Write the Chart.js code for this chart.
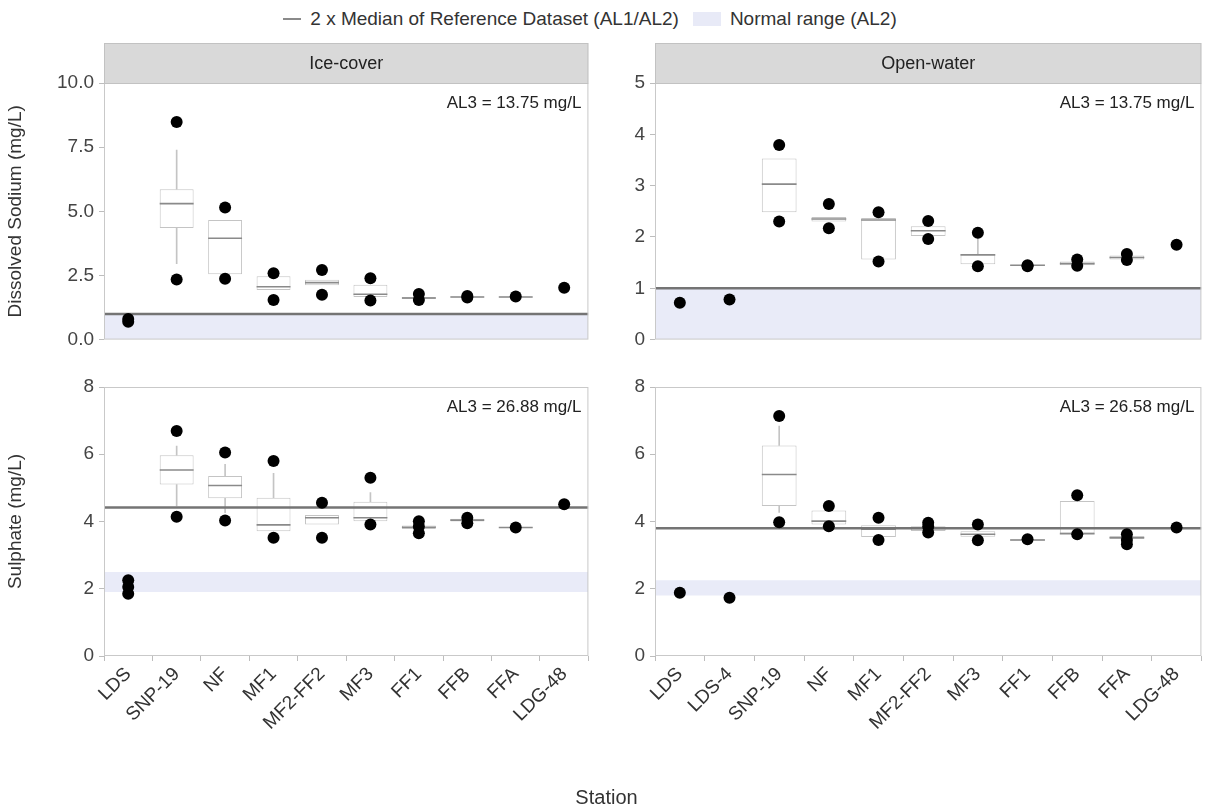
<!DOCTYPE html>
<html>
<head>
<meta charset="utf-8">
<title>Sodium and sulphate by station</title>
<script src="https://cdn.jsdelivr.net/npm/chart.js@4.4.1/dist/chart.umd.min.js"></script>
<style>
  body {
    margin: 0;
    width: 1213px;
    height: 812px;
    position: relative;
    overflow: hidden;
    background: #fff;
    font-family: "Liberation Sans", Arial, sans-serif;
    color: #333;
  }
  .panel { position: absolute; }
  #legend {
    position: absolute;
    top: 8px;
    left: 0;
    width: 1180px;
    display: flex;
    justify-content: center;
    align-items: center;
    font-size: 19px;
    color: #333;
    white-space: nowrap;
  }
  #legend .line { width: 18px; height: 2px; background: #8a8a8a; margin-right: 9px; }
  #legend .band { width: 28px; height: 14px; background: #e8eaf7; margin: 0 9px 0 14px; }
  #xtitle {
    position: absolute;
    top: 786px;
    left: 0;
    width: 1213px;
    text-align: center;
    font-size: 20px;
    color: #333;
  }
</style>
</head>
<body>

<div id="legend">
  <span class="line"></span><span>2 x Median of Reference Dataset (AL1/AL2)</span>
  <span class="band"></span><span>Normal range (AL2)</span>
</div>

<div class="panel" style="left:0;top:40px;width:600px;height:316px"><canvas id="naIce"></canvas></div>
<div class="panel" style="left:600px;top:40px;width:613px;height:316px"><canvas id="naOpen"></canvas></div>
<div class="panel" style="left:0;top:347px;width:600px;height:440px"><canvas id="so4Ice"></canvas></div>
<div class="panel" style="left:600px;top:347px;width:613px;height:440px"><canvas id="so4Open"></canvas></div>

<div id="xtitle">Station</div>

<script>
/* ================================
   Stations
================================ */
const iceStations = ["LDS", "SNP-19", "NF", "MF1", "MF2-FF2", "MF3", "FF1", "FFB", "FFA", "LDG-48"];
const openStations = ["LDS", "LDS-4", "SNP-19", "NF", "MF1", "MF2-FF2", "MF3", "FF1", "FFB", "FFA", "LDG-48"];

/* ================================
   Dissolved sodium - ice-cover
================================ */
const naIceLo  = [null, 2.96, 2.55, 1.93, 2.12, 1.66, 1.58, 1.64, 1.64, null];
const naIceQ1  = [null, 4.35, 2.55, 1.93, 2.12, 1.66, 1.58, 1.64, 1.64, null];
const naIceMed = [null, 5.30, 3.95, 2.06, 2.22, 1.77, 1.62, 1.66, 1.66, null];
const naIceQ3  = [null, 5.86, 4.66, 2.47, 2.33, 2.14, 1.66, 1.68, 1.68, null];
const naIceHi  = [null, 7.39, 4.66, 2.47, 2.33, 2.14, 1.66, 1.68, 1.68, null];
const naIcePts = [[0.70, 0.80], [8.48, 2.34], [5.15, 2.37], [2.59, 1.54], [2.71, 1.75],
                  [2.39, 1.52], [1.78, 1.54], [1.70, 1.64], [1.68], [2.02]];

/* ================================
   Dissolved sodium - open-water
================================ */
const naOpenLo  = [null, null, 2.48, 2.30, 1.56, 2.02, 1.47, 1.44, 1.45, 1.56, null];
const naOpenQ1  = [null, null, 2.48, 2.30, 1.56, 2.02, 1.47, 1.44, 1.45, 1.56, null];
const naOpenMed = [null, null, 3.03, 2.35, 2.33, 2.12, 1.65, 1.45, 1.48, 1.60, null];
const naOpenQ3  = [null, null, 3.53, 2.39, 2.37, 2.21, 1.67, 1.46, 1.52, 1.64, null];
const naOpenHi  = [null, null, 3.53, 2.39, 2.37, 2.21, 2.00, 1.46, 1.52, 1.64, null];
const naOpenPts = [[0.72], [0.78], [3.79, 2.30], [2.64, 2.17], [2.48, 1.52], [2.31, 1.96],
                   [2.08, 1.43], [1.45, 1.43], [1.56, 1.44], [1.67, 1.55], [1.85]];

/* ================================
   Sulphate - ice-cover
================================ */
const so4IceLo  = [null, 4.46, 4.26, 3.71, 3.91, 4.01, 3.78, 4.00, 3.80, null];
const so4IceQ1  = [null, 5.10, 4.69, 3.71, 3.91, 4.01, 3.78, 4.00, 3.80, null];
const so4IceMed = [null, 5.53, 5.07, 3.90, 4.11, 4.11, 3.83, 4.04, 3.82, null];
const so4IceQ3  = [null, 5.97, 5.35, 4.71, 4.19, 4.59, 3.88, 4.08, 3.84, null];
const so4IceHi  = [null, 6.24, 5.70, 5.43, 4.19, 4.86, 3.88, 4.08, 3.84, null];
const so4IcePts = [[2.25, 2.05, 1.85], [6.69, 4.14], [6.05, 4.03], [5.80, 3.52], [4.56, 3.52],
                   [5.30, 3.91], [4.01, 3.85, 3.65], [4.11, 3.95], [3.82], [4.51]];

/* ================================
   Sulphate - open-water
================================ */
const so4OpenLo  = [null, null, 4.27, 3.91, 3.54, 3.72, 3.55, 3.43, 3.64, 3.48, null];
const so4OpenQ1  = [null, null, 4.46, 3.91, 3.54, 3.72, 3.55, 3.43, 3.64, 3.48, null];
const so4OpenMed = [null, null, 5.40, 4.01, 3.77, 3.79, 3.62, 3.45, 3.64, 3.52, null];
const so4OpenQ3  = [null, null, 6.26, 4.33, 3.89, 3.86, 3.71, 3.47, 4.61, 3.56, null];
const so4OpenHi  = [null, null, 6.84, 4.33, 3.89, 3.86, 3.71, 3.47, 4.61, 3.56, null];
const so4OpenPts = [[1.88], [1.73], [7.14, 3.98], [4.46, 3.86], [4.11, 3.45], [3.96, 3.85, 3.67],
                    [3.91, 3.44], [3.47], [4.78, 3.62], [3.62, 3.45, 3.32], [3.82]];

/* ================================
   Guideline values
================================ */
const naMedianLine = 1.0;           // 2 x median, both seasons
const so4IceMedianLine = 4.42;
const so4OpenMedianLine = 3.80;
const naNormalRange = [0, 1.0];
const so4IceNormalRange = [1.9, 2.5];
const so4OpenNormalRange = [1.8, 2.25];

/* ================================
   Tick labels
================================ */
const naIceTicks = [0, 2.5, 5, 7.5, 10];
const naOpenTicks = [0, 1, 2, 3, 4, 5];
const so4Ticks = [0, 2, 4, 6, 8];

/* ================================
   Panel decoration (strip, border, AL3 note)
================================ */
const FONT = "'Liberation Sans', Arial, sans-serif";

const panelDecor = {
  id: "panelDecor",
  afterDraw(chart, args, opts) {
    const { ctx, chartArea: a } = chart;
    ctx.save();
    ctx.strokeStyle = "#c9c9c9";
    ctx.lineWidth = 1;
    ctx.strokeRect(a.left + 0.5, a.top + 0.5, a.width - 1, a.height - 1);

    if (opts.strip) {
      ctx.fillStyle = "#d9d9d9";
      ctx.fillRect(a.left, a.top - 40, a.width, 40);
      ctx.strokeStyle = "#c2c2c2";
      ctx.strokeRect(a.left + 0.5, a.top - 39.5, a.width - 1, 40);
      ctx.fillStyle = "#222";
      ctx.font = "18px " + FONT;
      ctx.textAlign = "center";
      ctx.textBaseline = "middle";
      ctx.fillText(opts.strip, (a.left + a.right) / 2, a.top - 19);
    }

    if (opts.note) {
      ctx.fillStyle = "#222";
      ctx.font = "17px " + FONT;
      ctx.textAlign = "right";
      ctx.textBaseline = "middle";
      ctx.fillText(opts.note, a.right - 7, a.top + 20);
    }
    ctx.restore();
  }
};

/* ================================
   Build one facet
================================ */
function makePanel(id, p) {
  const st = p.stations;
  const hasBox = i => p.q1[i] != null;

  const datasets = [
    // normal range band
    {
      type: "line",
      xAxisID: "xr",
      data: [{ x: 0, y: p.band[1] }, { x: 1, y: p.band[1] }],
      fill: { value: p.band[0] },
      backgroundColor: "#e9ebf8",
      borderWidth: 0,
      pointRadius: 0,
      order: 10
    },
    // lower whiskers
    {
      type: "bar",
      data: st.map((s, i) => hasBox(i) && p.lo[i] < p.q1[i] ? [p.lo[i], p.q1[i]] : null),
      backgroundColor: "#c4c4c4",
      barThickness: 1,
      grouped: false,
      order: 6
    },
    // upper whiskers
    {
      type: "bar",
      data: st.map((s, i) => hasBox(i) && p.hi[i] > p.q3[i] ? [p.q3[i], p.hi[i]] : null),
      backgroundColor: "#c4c4c4",
      barThickness: 1,
      grouped: false,
      order: 6
    },
    // boxes
    {
      type: "bar",
      data: st.map((s, i) => hasBox(i) ? [p.q1[i], p.q3[i]] : null),
      backgroundColor: "#ffffff",
      borderColor: "#c4c4c4",
      borderWidth: 1,
      borderSkipped: false,
      barPercentage: 0.7,
      categoryPercentage: 1,
      grouped: false,
      order: 5
    },
    // medians
    {
      type: "line",
      showLine: false,
      data: st.map((s, i) => ({ x: s, y: p.med[i] })).filter(d => d.y != null),
      pointStyle: "line",
      pointRadius: ctx => ctx.chart.chartArea ? ctx.chart.chartArea.width / st.length * 0.35 : 10,
      pointBorderColor: "#8a8a8a",
      pointBorderWidth: 1.6,
      order: 4
    },
    // 2 x median of reference dataset
    {
      type: "line",
      xAxisID: "xr",
      data: [{ x: 0, y: p.refLine }, { x: 1, y: p.refLine }],
      borderColor: "#747474",
      borderWidth: 2.5,
      pointRadius: 0,
      order: 2
    },
    // observations
    {
      type: "line",
      showLine: false,
      data: st.flatMap((s, i) => p.pts[i].map(v => ({ x: s, y: v }))),
      pointRadius: 6,
      pointBackgroundColor: "#000",
      pointBorderWidth: 0,
      order: 0
    }
  ];

  const tickFont = { family: FONT, size: 19 };

  return new Chart(document.getElementById(id), {
    type: "bar",
    data: { labels: st, datasets },
    options: {
      responsive: true,
      maintainAspectRatio: false,
      animation: false,
      events: [],
      layout: { padding: p.pad },
      plugins: {
        legend: { display: false },
        tooltip: { enabled: false },
        panelDecor: { strip: p.strip, note: p.note }
      },
      scales: {
        x: {
          display: p.showX,
          offset: true,
          border: { display: false },
          grid: { drawOnChartArea: false, tickLength: 5, color: "#bdbdbd" },
          ticks: {
            autoSkip: false,
            minRotation: 45,
            maxRotation: 45,
            padding: 2,
            color: "#333",
            font: tickFont
          },
          afterFit: s => { if (p.xHeight) s.height = p.xHeight; }
        },
        xr: { type: "linear", display: false, offset: false, min: 0, max: 1 },
        y: {
          min: p.yTicks[0],
          max: p.yTicks[p.yTicks.length - 1],
          border: { display: false },
          grid: { drawOnChartArea: false, tickLength: 5, color: "#bdbdbd" },
          afterBuildTicks: s => { s.ticks = p.yTicks.map(v => ({ value: v })); },
          ticks: {
            padding: 5,
            color: "#444",
            font: tickFont,
            callback: v => v.toFixed(p.yDigits)
          },
          title: {
            display: !!p.yTitle,
            text: p.yTitle,
            color: "#333",
            font: { family: FONT, size: 19 },
            padding: { top: 4, bottom: 0 }
          },
          afterFit: s => { s.width = p.yWidth; }
        }
      }
    },
    plugins: [panelDecor]
  });
}

/* ================================
   Init
================================ */
makePanel("naIce", {
  stations: iceStations,
  lo: naIceLo, q1: naIceQ1, med: naIceMed, q3: naIceQ3, hi: naIceHi, pts: naIcePts,
  refLine: naMedianLine, band: naNormalRange,
  yTicks: naIceTicks, yDigits: 1,
  yTitle: "Dissolved Sodium (mg/L)", yWidth: 104,
  strip: "Ice-cover", note: "AL3 = 13.75 mg/L",
  showX: false, pad: { top: 43, right: 8, bottom: 4, left: 0 }
});

makePanel("naOpen", {
  stations: openStations,
  lo: naOpenLo, q1: naOpenQ1, med: naOpenMed, q3: naOpenQ3, hi: naOpenHi, pts: naOpenPts,
  refLine: naMedianLine, band: naNormalRange,
  yTicks: naOpenTicks, yDigits: 0,
  yTitle: "", yWidth: 55,
  strip: "Open-water", note: "AL3 = 13.75 mg/L",
  showX: false, pad: { top: 43, right: 1, bottom: 4, left: 0 }
});

makePanel("so4Ice", {
  stations: iceStations,
  lo: so4IceLo, q1: so4IceQ1, med: so4IceMed, q3: so4IceQ3, hi: so4IceHi, pts: so4IcePts,
  refLine: so4IceMedianLine, band: so4IceNormalRange,
  yTicks: so4Ticks, yDigits: 0,
  yTitle: "Sulphate (mg/L)", yWidth: 104,
  strip: null, note: "AL3 = 26.88 mg/L",
  showX: true, xHeight: 131, pad: { top: 40, right: 8, bottom: 0, left: 0 }
});

makePanel("so4Open", {
  stations: openStations,
  lo: so4OpenLo, q1: so4OpenQ1, med: so4OpenMed, q3: so4OpenQ3, hi: so4OpenHi, pts: so4OpenPts,
  refLine: so4OpenMedianLine, band: so4OpenNormalRange,
  yTicks: so4Ticks, yDigits: 0,
  yTitle: "", yWidth: 55,
  strip: null, note: "AL3 = 26.58 mg/L",
  showX: true, xHeight: 131, pad: { top: 40, right: 1, bottom: 0, left: 0 }
});
</script>
</body>
</html>
